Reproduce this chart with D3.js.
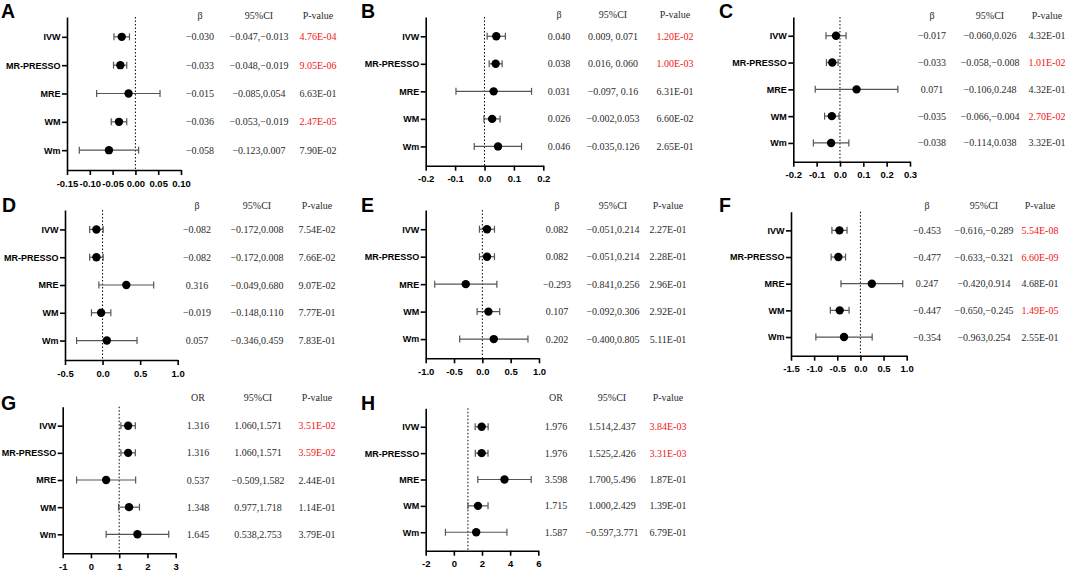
<!DOCTYPE html>
<html>
<head>
<meta charset="utf-8">
<script src="https://cdn.jsdelivr.net/npm/d3@7"></script>
<style>
  body { margin: 0; background: #fff; }
  svg { display: block; }
</style>
</head>
<body>
<div id="chart"></div>
<script>
const width = 1065;
const height = 574;

const methods = ["IVW", "MR-PRESSO", "MRE", "WM", "Wm"];

// A
const estA = [-0.030, -0.033, -0.015, -0.036, -0.058];
const ciA = ["-0.047,-0.013", "-0.048,-0.019", "-0.085,0.054", "-0.053,-0.019", "-0.123,0.007"];
const pA = ["4.76E-04", "9.05E-06", "6.63E-01", "2.47E-05", "7.90E-02"];
const ticksA = [-0.15, -0.10, -0.05, 0.00, 0.05, 0.10];
// B
const estB = [0.040, 0.038, 0.031, 0.026, 0.046];
const ciB = ["0.009, 0.071", "0.016, 0.060", "-0.097, 0.16", "-0.002,0.053", "-0.035,0.126"];
const pB = ["1.20E-02", "1.00E-03", "6.31E-01", "6.60E-02", "2.65E-01"];
const ticksB = [-0.2, -0.1, 0.0, 0.1, 0.2];
// C
const estC = [-0.017, -0.033, 0.071, -0.035, -0.038];
const ciC = ["-0.060,0.026", "-0.058,-0.008", "-0.106,0.248", "-0.066,-0.004", "-0.114,0.038"];
const pC = ["4.32E-01", "1.01E-02", "4.32E-01", "2.70E-02", "3.32E-01"];
const ticksC = [-0.2, -0.1, 0.0, 0.1, 0.2, 0.3];
// D
const estD = [-0.082, -0.082, 0.316, -0.019, 0.057];
const ciD = ["-0.172,0.008", "-0.172,0.008", "-0.049,0.680", "-0.148,0.110", "-0.346,0.459"];
const pD = ["7.54E-02", "7.66E-02", "9.07E-02", "7.77E-01", "7.83E-01"];
const ticksD = [-0.5, 0.0, 0.5, 1.0];
// E
const estE = [0.082, 0.082, -0.293, 0.107, 0.202];
const ciE = ["-0.051,0.214", "-0.051,0.214", "-0.841,0.256", "-0.092,0.306", "-0.400,0.805"];
const pE = ["2.27E-01", "2.28E-01", "2.96E-01", "2.92E-01", "5.11E-01"];
const ticksE = [-1.0, -0.5, 0.0, 0.5, 1.0];
// F
const estF = [-0.453, -0.477, 0.247, -0.447, -0.354];
const ciF = ["-0.616,-0.289", "-0.633,-0.321", "-0.420,0.914", "-0.650,-0.245", "-0.963,0.254"];
const pF = ["5.54E-08", "6.60E-09", "4.68E-01", "1.49E-05", "2.55E-01"];
const ticksF = [-1.5, -1.0, -0.5, 0.0, 0.5, 1.0];
// G
const estG = [1.316, 1.316, 0.537, 1.348, 1.645];
const ciG = ["1.060,1.571", "1.060,1.571", "-0.509,1.582", "0.977,1.718", "0.538,2.753"];
const pG = ["3.51E-02", "3.59E-02", "2.44E-01", "1.14E-01", "3.79E-01"];
const ticksG = [-1, 0, 1, 2, 3];
// H
const estH = [1.976, 1.976, 3.598, 1.715, 1.587];
const ciH = ["1.514,2.437", "1.525,2.426", "1.700,5.496", "1.000,2.429", "-0.597,3.771"];
const pH = ["3.84E-03", "3.31E-03", "1.87E-01", "1.39E-01", "6.79E-01"];
const ticksH = [-2, 0, 2, 4, 6];

// layout of each panel (axis corner, column centres)
const panels = [
  { letter: "A", head: "β",  est: estA, ci: ciA, p: pA, ticks: ticksA, fmt: ".2f", ref: 0,
    ax: 67, axEnd: 181, top: 17, bot: 170, lx: 1, ly: 17.8, cols: [200, 259, 318], headY: 15 },
  { letter: "B", head: "β",  est: estB, ci: ciB, p: pB, ticks: ticksB, fmt: ".1f", ref: 0,
    ax: 425.7, axEnd: 543.3, top: 17, bot: 165.7, lx: 361, ly: 17.8, cols: [559, 613, 675], headY: 14 },
  { letter: "C", head: "β",  est: estC, ci: ciC, p: pC, ticks: ticksC, fmt: ".1f", ref: 0,
    ax: 793.3, axEnd: 910, top: 17, bot: 161.7, lx: 719, ly: 17.8, cols: [932, 990, 1047], headY: 15 },
  { letter: "D", head: "β",  est: estD, ci: ciD, p: pD, ticks: ticksD, fmt: ".1f", ref: 0,
    ax: 65, axEnd: 177.7, top: 210, bot: 360, lx: 2, ly: 211.7, cols: [197, 257, 317], headY: 205 },
  { letter: "E", head: "β",  est: estE, ci: ciE, p: pE, ticks: ticksE, fmt: ".1f", ref: 0,
    ax: 425.7, axEnd: 539, top: 210, bot: 358.3, lx: 361, ly: 212, cols: [557, 613, 668], headY: 205 },
  { letter: "F", head: "β",  est: estF, ci: ciF, p: pF, ticks: ticksF, fmt: ".1f", ref: 0,
    ax: 791, axEnd: 906.7, top: 211.7, bot: 355.7, lx: 719, ly: 212, cols: [927, 984, 1040], headY: 205 },
  { letter: "G", head: "OR", est: estG, ci: ciG, p: pG, ticks: ticksG, fmt: "d", ref: 1,
    ax: 62.7, axEnd: 175.7, top: 406.7, bot: 553.3, lx: 1, ly: 409.5, cols: [198, 258, 317], headY: 397 },
  { letter: "H", head: "OR", est: estH, ci: ciH, p: pH, ticks: ticksH, fmt: "d", ref: 1,
    ax: 425.7, axEnd: 538.3, top: 408.3, bot: 550.7, lx: 361, ly: 409.5, cols: [556, 612, 668], headY: 397 }
];

const svg = d3
  .select("#chart")
  .append("svg")
  .attr("width", width)
  .attr("height", height)
  .attr("viewBox", "0 0 " + width + " " + height);

// ticks use a short hyphen, the table a long minus
const tickLocale = d3.formatLocale({ decimal: ".", thousands: ",", grouping: [3], currency: ["", ""], minus: "-" });
const estFormat = d3.format(".3f");
const tableFont = "'Liberation Serif', 'DejaVu Serif', serif";
const axisFont = "'Liberation Sans', Arial, sans-serif";

panels.forEach((pn) => {
  const rows = methods.map((m, i) => {
    let parts = pn.ci[i].split(",").map((s) => +s.trim());
    return { method: m, est: pn.est[i], lo: parts[0], hi: parts[1], ci: pn.ci[i], p: pn.p[i] };
  });

  let xScale = d3
    .scaleLinear()
    .domain([pn.ticks[0], pn.ticks[pn.ticks.length - 1]])
    .range([pn.ax, pn.axEnd]);

  let yScale = d3
    .scalePoint()
    .domain(methods)
    .range([pn.top, pn.bot])
    .padding(0.7);

  const g = svg.append("g").attr("class", "panel");

  // panel letter
  g.append("text")
    .attr("x", pn.lx)
    .attr("y", pn.ly)
    .text(pn.letter)
    .style("font-family", axisFont)
    .style("font-weight", "bold")
    .style("font-size", "19.5px")
    .style("fill", "#000");

  // reference line
  g.append("line")
    .attr("x1", xScale(pn.ref))
    .attr("x2", xScale(pn.ref))
    .attr("y1", pn.top)
    .attr("y2", pn.bot)
    .style("stroke", "#000")
    .style("stroke-width", 1)
    .style("stroke-dasharray", "1.5,2");

  let xAxis = d3
    .axisBottom(xScale)
    .tickValues(pn.ticks)
    .tickFormat(tickLocale.format(pn.fmt))
    .tickSize(5)
    .tickSizeOuter(0)
    .tickPadding(5);

  let yAxis = d3.axisLeft(yScale).tickSize(5).tickSizeOuter(0).tickPadding(1.5);

  const gx = g.append("g")
    .attr("transform", "translate(0," + pn.bot + ")")
    .call(xAxis);

  const gy = g.append("g")
    .attr("transform", "translate(" + pn.ax + ",0)")
    .call(yAxis);

  [gx, gy].forEach((a) => {
    a.selectAll("path, line").style("stroke", "#000").style("stroke-width", 1.6);
    a.selectAll("text")
      .style("font-family", axisFont)
      .style("font-weight", "bold")
      .style("font-size", "9.5px")
      .style("fill", "#000");
  });
  gy.selectAll("text").style("font-size", "9px");

  // confidence intervals
  const bars = g.selectAll(".ci").data(rows).enter().append("g").attr("class", "ci");
  bars.append("line")
    .attr("x1", (d) => xScale(d.lo))
    .attr("x2", (d) => xScale(d.hi))
    .attr("y1", (d) => yScale(d.method))
    .attr("y2", (d) => yScale(d.method));
  bars.append("line")
    .attr("x1", (d) => xScale(d.lo))
    .attr("x2", (d) => xScale(d.lo))
    .attr("y1", (d) => yScale(d.method) - 3.5)
    .attr("y2", (d) => yScale(d.method) + 3.5);
  bars.append("line")
    .attr("x1", (d) => xScale(d.hi))
    .attr("x2", (d) => xScale(d.hi))
    .attr("y1", (d) => yScale(d.method) - 3.5)
    .attr("y2", (d) => yScale(d.method) + 3.5);
  bars.selectAll("line").style("stroke", "#555").style("stroke-width", 1.2);

  g.selectAll(".dot")
    .data(rows)
    .enter()
    .append("circle")
    .attr("class", "dot")
    .attr("cx", (d) => xScale(d.est))
    .attr("cy", (d) => yScale(d.method))
    .attr("r", 4.2)
    .style("fill", "#000");

  // table
  const headers = [pn.head, "95%CI", "P-value"];
  g.selectAll(".head")
    .data(headers)
    .enter()
    .append("text")
    .attr("class", "head")
    .attr("x", (d, i) => pn.cols[i])
    .attr("y", pn.headY)
    .attr("dy", "0.35em")
    .attr("text-anchor", "middle")
    .text((d) => d);

  const cells = [];
  rows.forEach((d) => {
    cells.push({ col: 0, y: yScale(d.method), text: estFormat(d.est), red: false });
    cells.push({ col: 1, y: yScale(d.method), text: d.ci.replace(/-/g, "\u2212"), red: false });
    cells.push({ col: 2, y: yScale(d.method), text: d.p, red: +d.p < 0.05 });
  });

  g.selectAll(".cell")
    .data(cells)
    .enter()
    .append("text")
    .attr("class", "cell")
    .attr("x", (d) => pn.cols[d.col])
    .attr("y", (d) => d.y)
    .attr("dy", "0.35em")
    .attr("text-anchor", "middle")
    .style("fill", (d) => (d.red ? "#f01414" : "#2b2b2b"))
    .text((d) => d.text);

  g.selectAll(".head, .cell")
    .style("font-family", tableFont)
    .style("font-size", "10px");
  g.selectAll(".head").style("fill", "#2b2b2b");
});
</script>
</body>
</html>
